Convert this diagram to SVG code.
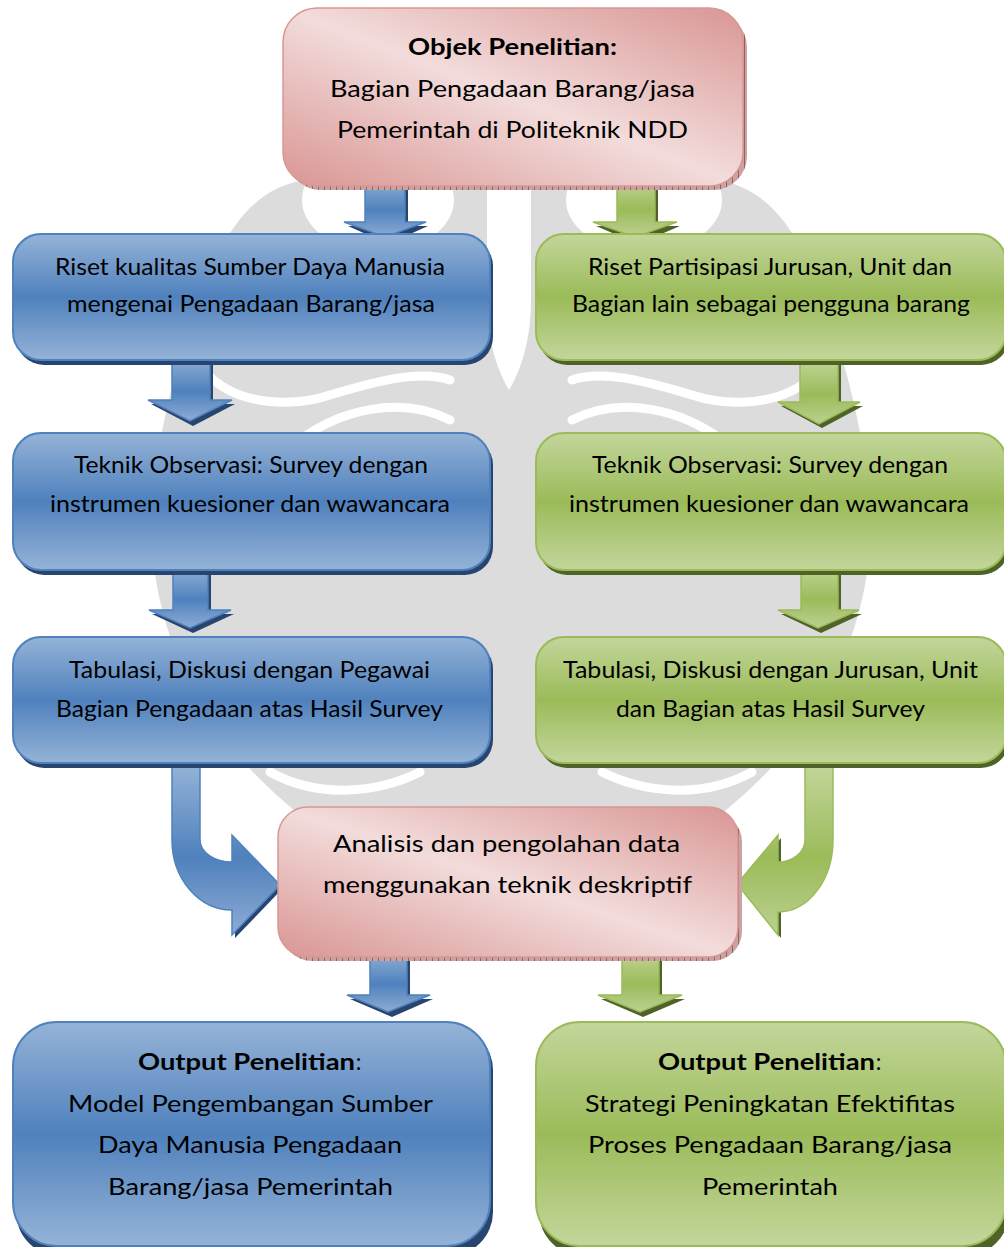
<svg xmlns="http://www.w3.org/2000/svg" width="1004" height="1247" viewBox="0 0 1004 1247">
  <style>
    .t { font-family: Lato, "Liberation Sans", sans-serif; font-size: 22.5px; fill: #000; text-anchor: middle; }
    .b { font-weight: bold; }
    .blue { fill: url(#gBlue); stroke: #4f81bd; stroke-width: 2; }
    .green { fill: url(#gGreen); stroke: #9bbb59; stroke-width: 2; }
    .pink { fill: url(#gPink); stroke: #d99694; stroke-width: 1.5; }
    .shB { fill: #27456f; }
    .shG { fill: #4f6228; }
    .shP { fill: url(#hatch); }
    .wm { fill: #dcdcdc; }
    .wmCut { fill: #fff; }
    .wmLine { fill: none; stroke: #fff; stroke-width: 9; stroke-linecap: round; }
    .aB { fill: url(#gBlueA); stroke: #4f81bd; stroke-width: 1.5; }
    .aG { fill: url(#gGreenA); stroke: #9bbb59; stroke-width: 1.5; }
  </style>
  <defs>
    <linearGradient id="gBlue" x1="0" y1="0" x2="0" y2="1">
      <stop offset="0" stop-color="#95b3d7"/>
      <stop offset="0.5" stop-color="#4f81bd"/>
      <stop offset="1" stop-color="#95b3d7"/>
    </linearGradient>
    <linearGradient id="gGreen" x1="0" y1="0" x2="0" y2="1">
      <stop offset="0" stop-color="#c3d69b"/>
      <stop offset="0.5" stop-color="#9bbb59"/>
      <stop offset="1" stop-color="#c3d69b"/>
    </linearGradient>
    <linearGradient id="gBlueA" x1="0" y1="0" x2="0" y2="1">
      <stop offset="0" stop-color="#95b3d7"/>
      <stop offset="0.55" stop-color="#4f81bd"/>
      <stop offset="1" stop-color="#8eacd4"/>
    </linearGradient>
    <linearGradient id="gGreenA" x1="0" y1="0" x2="0" y2="1">
      <stop offset="0" stop-color="#c3d69b"/>
      <stop offset="0.55" stop-color="#9bbb59"/>
      <stop offset="1" stop-color="#bcd192"/>
    </linearGradient>
    <linearGradient id="gPink" x1="0" y1="1" x2="1" y2="0">
      <stop offset="0" stop-color="#d99694"/>
      <stop offset="0.5" stop-color="#f2dcdb"/>
      <stop offset="1" stop-color="#d99694"/>
    </linearGradient>
    <pattern id="hatch" width="6" height="6" patternUnits="userSpaceOnUse">
      <rect width="6" height="6" fill="#c9a3a2"/>
      <line x1="0.5" y1="0" x2="0.5" y2="6" stroke="#95605e" stroke-width="1"/>
    </pattern>
  </defs>

  <rect width="1004" height="1247" fill="#fff"/>

  <!-- faint background emblem -->
  <g id="emblem">
    <path class="wm" d="M305,180 C265,186 235,215 215,262 C180,340 150,450 152,540 C156,640 205,740 300,815 L720,815 C815,740 866,640 870,540 C872,450 842,340 807,262 C787,215 757,186 717,180 Z"/>
    <ellipse class="wmCut" cx="378" cy="200" rx="76" ry="52"/>
    <ellipse class="wmCut" cx="644" cy="200" rx="78" ry="52"/>
    <path class="wmCut" d="M487,178 L531,178 L531,300 C531,350 515,380 509,390 C503,380 487,350 487,300 Z"/>
    <path class="wmLine" d="M205,372 C240,410 300,405 330,395 C380,380 420,370 450,380"/>
    <path class="wmLine" d="M300,440 C340,410 400,395 450,420"/>
    <path class="wmLine" d="M817,372 C782,410 722,405 692,395 C642,380 602,370 572,380"/>
    <path class="wmLine" d="M722,440 C682,410 622,395 572,420"/>
    <path class="wmLine" d="M270,772 C320,800 380,792 420,772"/>
    <path class="wmLine" d="M752,772 C702,800 642,792 602,772"/>
  </g>

  <!-- connectors -->
  <g id="connectors">
    <!-- top box to first row -->
    <path class="shB" d="M368,180 L408,180 L408,226 L428,226 L388,244 L348,226 L368,226 Z"/>
    <path class="aB" d="M365,177 L405,177 L405,222 L426,222 L385,237 L344,222 L365,222 Z"/>
    <path class="shG" d="M620,180 L658,180 L658,226 L680,226 L638,244 L596,226 L620,226 Z"/>
    <path class="aG" d="M617,177 L655,177 L655,222 L677,222 L635,237 L593,222 L617,222 Z"/>

    <!-- first row to second row -->
    <path class="shB" d="M175,359 L213,359 L213,404 L235,404 L193,426 L151,404 L175,404 Z"/>
    <path class="aB" d="M172,355 L210,355 L210,400 L232,400 L190,421 L148,400 L172,400 Z"/>
    <path class="shG" d="M803,362 L841,362 L841,406 L863,406 L822,428 L781,406 L803,406 Z"/>
    <path class="aG" d="M800,358 L838,358 L838,402 L860,402 L819,424 L778,402 L800,402 Z"/>

    <!-- second row to third row -->
    <path class="shB" d="M176,569 L211,569 L211,614 L234,614 L193,633 L152,614 L176,614 Z"/>
    <path class="aB" d="M173,565 L208,565 L208,610 L231,610 L190,628 L149,610 L173,610 Z"/>
    <path class="shG" d="M804,569 L841,569 L841,614 L862,614 L821,633 L781,614 L804,614 Z"/>
    <path class="aG" d="M801,565 L838,565 L838,610 L859,610 L818,628 L778,610 L801,610 Z"/>

    <!-- third row into analysis box -->
    <path class="shB" d="M235,838 L283,888 L235,938 Z"/>
    <path class="aB" d="M172,763 L200,763 L200,840 A32,22 0 0 0 232,862 L232,835 L280,885 L232,935 L232,910 A60,70 0 0 1 172,840 Z"/>
    <path class="shG" d="M781,838 L740,887 L781,938 Z"/>
    <path class="aG" d="M805,763 L833,763 L833,840 A55,72 0 0 1 778,912 L778,935 L737,884 L778,835 L778,862 A27,22 0 0 0 805,840 Z"/>

    <!-- analysis box to outputs -->
    <path class="shB" d="M373,954 L410,954 L410,999 L433,999 L392,1017 L350,999 L373,999 Z"/>
    <path class="aB" d="M370,950 L407,950 L407,995 L430,995 L388,1012 L347,995 L370,995 Z"/>
    <path class="shG" d="M625,954 L662,954 L662,999 L685,999 L643,1017 L601,999 L625,999 Z"/>
    <path class="aG" d="M622,950 L659,950 L659,995 L682,995 L640,1012 L598,995 L622,995 Z"/>
  </g>

  <!-- object of research -->
  <g id="node-objek">
    <rect class="shP" x="287" y="13" width="460" height="177" rx="34"/>
    <rect class="pink" x="283" y="8" width="460" height="178" rx="34"/>
    <text class="t b" x="512.5" y="55" textLength="209" lengthAdjust="spacingAndGlyphs">Objek Penelitian:</text>
    <text class="t" x="512.5" y="97" textLength="365" lengthAdjust="spacingAndGlyphs">Bagian Pengadaan Barang/jasa</text>
    <text class="t" x="512.5" y="138" textLength="351" lengthAdjust="spacingAndGlyphs">Pemerintah di Politeknik NDD</text>
  </g>

  <!-- left column -->
  <g id="node-riset-sdm">
    <rect class="shB" x="16" y="238" width="477" height="127" rx="28"/>
    <rect class="blue" x="13" y="234" width="477" height="126" rx="28"/>
    <text class="t" x="250" y="275" textLength="390" lengthAdjust="spacingAndGlyphs">Riset kualitas Sumber Daya Manusia</text>
    <text class="t" x="251" y="312" textLength="368" lengthAdjust="spacingAndGlyphs">mengenai Pengadaan Barang/jasa</text>
  </g>
  <g id="node-observasi-kiri">
    <rect class="shB" x="16" y="437" width="477" height="138" rx="28"/>
    <rect class="blue" x="13" y="433" width="477" height="137" rx="28"/>
    <text class="t" x="251" y="473" textLength="354" lengthAdjust="spacingAndGlyphs">Teknik Observasi: Survey dengan</text>
    <text class="t" x="250" y="512" textLength="400" lengthAdjust="spacingAndGlyphs">instrumen kuesioner dan wawancara</text>
  </g>
  <g id="node-tabulasi-kiri">
    <rect class="shB" x="16" y="641" width="477" height="127" rx="28"/>
    <rect class="blue" x="13" y="637" width="477" height="126" rx="28"/>
    <text class="t" x="249.5" y="678" textLength="361" lengthAdjust="spacingAndGlyphs">Tabulasi, Diskusi dengan Pegawai</text>
    <text class="t" x="249.5" y="717" textLength="387" lengthAdjust="spacingAndGlyphs">Bagian Pengadaan atas Hasil Survey</text>
  </g>

  <!-- right column -->
  <g id="node-riset-partisipasi">
    <rect class="shG" x="539" y="238" width="470" height="127" rx="28"/>
    <rect class="green" x="536" y="234" width="470" height="126" rx="28"/>
    <text class="t" x="770" y="275" textLength="364" lengthAdjust="spacingAndGlyphs">Riset Partisipasi Jurusan, Unit dan</text>
    <text class="t" x="771" y="312" textLength="398" lengthAdjust="spacingAndGlyphs">Bagian lain sebagai pengguna barang</text>
  </g>
  <g id="node-observasi-kanan">
    <rect class="shG" x="539" y="437" width="470" height="138" rx="28"/>
    <rect class="green" x="536" y="433" width="470" height="137" rx="28"/>
    <text class="t" x="770" y="473" textLength="356" lengthAdjust="spacingAndGlyphs">Teknik Observasi: Survey dengan</text>
    <text class="t" x="769" y="512" textLength="400" lengthAdjust="spacingAndGlyphs">instrumen kuesioner dan wawancara</text>
  </g>
  <g id="node-tabulasi-kanan">
    <rect class="shG" x="539" y="641" width="470" height="127" rx="28"/>
    <rect class="green" x="536" y="637" width="470" height="126" rx="28"/>
    <text class="t" x="770.5" y="678" textLength="415" lengthAdjust="spacingAndGlyphs">Tabulasi, Diskusi dengan Jurusan, Unit</text>
    <text class="t" x="770.5" y="717" textLength="309" lengthAdjust="spacingAndGlyphs">dan Bagian atas Hasil Survey</text>
  </g>

  <!-- analysis -->
  <g id="node-analisis">
    <rect class="shP" x="282" y="812" width="460" height="149" rx="30"/>
    <rect class="pink" x="278" y="807" width="460" height="150" rx="30"/>
    <text class="t" x="506.5" y="852" textLength="347" lengthAdjust="spacingAndGlyphs">Analisis dan pengolahan data</text>
    <text class="t" x="507.5" y="893" textLength="369" lengthAdjust="spacingAndGlyphs">menggunakan teknik deskriptif</text>
  </g>

  <!-- outputs -->
  <g id="node-output-kiri">
    <rect class="shB" x="16" y="1026" width="477" height="230" rx="44"/>
    <rect class="blue" x="13" y="1022" width="477" height="224" rx="44"/>
    <text class="t b" x="246.5" y="1070" textLength="217" lengthAdjust="spacingAndGlyphs">Output Penelitian</text>
    <text class="t" x="358.5" y="1070">:</text>
    <text class="t" x="250.5" y="1112" textLength="365" lengthAdjust="spacingAndGlyphs">Model Pengembangan Sumber</text>
    <text class="t" x="250" y="1153" textLength="304" lengthAdjust="spacingAndGlyphs">Daya Manusia Pengadaan</text>
    <text class="t" x="250.5" y="1195" textLength="285" lengthAdjust="spacingAndGlyphs">Barang/jasa Pemerintah</text>
  </g>
  <g id="node-output-kanan">
    <rect class="shG" x="539" y="1026" width="470" height="230" rx="44"/>
    <rect class="green" x="536" y="1022" width="470" height="224" rx="44"/>
    <text class="t b" x="766.5" y="1070" textLength="217" lengthAdjust="spacingAndGlyphs">Output Penelitian</text>
    <text class="t" x="878.5" y="1070">:</text>
    <text class="t" x="770" y="1112" textLength="370" lengthAdjust="spacingAndGlyphs">Strategi Peningkatan Efektifitas</text>
    <text class="t" x="770" y="1153" textLength="364" lengthAdjust="spacingAndGlyphs">Proses Pengadaan Barang/jasa</text>
    <text class="t" x="770" y="1195" textLength="136" lengthAdjust="spacingAndGlyphs">Pemerintah</text>
  </g>
</svg>
